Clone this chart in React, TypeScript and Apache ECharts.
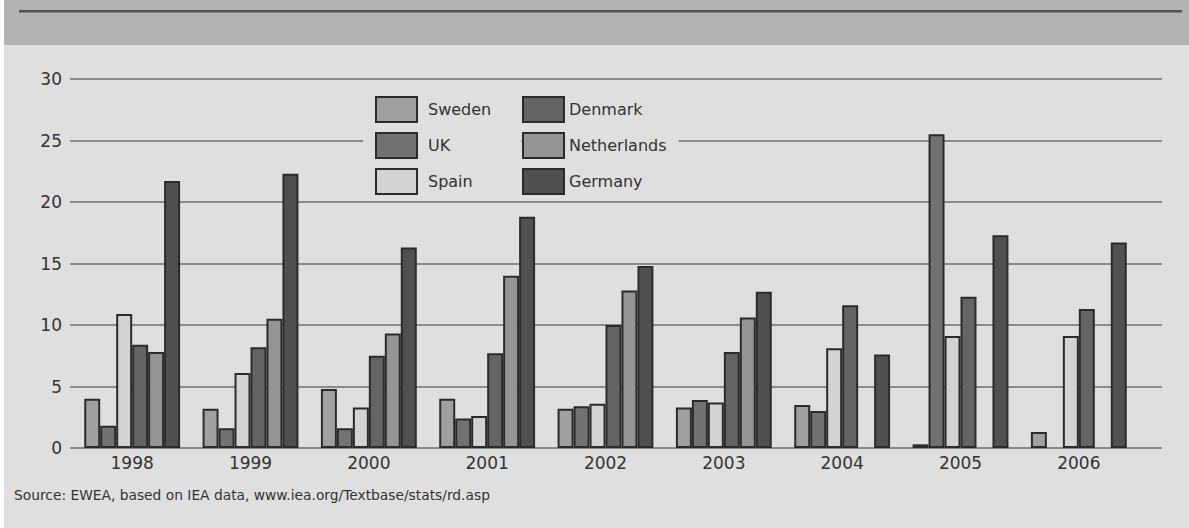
import React, { useEffect, useRef } from "react";
import * as echarts from "echarts";

const years = ["1998", "1999", "2000", "2001", "2002", "2003", "2004", "2005", "2006"];
const sweden = [4.0, 3.2, 4.8, 4.0, 3.2, 3.3, 3.5, 0.3, 1.3];
const uk = [1.8, 1.6, 1.6, 2.4, 3.4, 3.9, 3.0, 25.5, null];
const spain = [10.9, 6.1, 3.3, 2.6, 3.6, 3.7, 8.1, 9.1, 9.1];
const denmark = [8.4, 8.2, 7.5, 7.7, 10.0, 7.8, 11.6, 12.3, 11.3];
const netherlands = [7.8, 10.5, 9.3, 14.0, 12.8, 10.6, null, null, null];
const germany = [21.7, 22.3, 16.3, 18.8, 14.8, 12.7, 7.6, 17.3, 16.7];

const seriesDefs = [
  { name: "Sweden", data: sweden, color: "#a0a0a0" },
  { name: "UK", data: uk, color: "#727272" },
  { name: "Spain", data: spain, color: "#d3d3d3" },
  { name: "Denmark", data: denmark, color: "#646464" },
  { name: "Netherlands", data: netherlands, color: "#959595" },
  { name: "Germany", data: germany, color: "#505050" },
];

const sourceText = "Source: EWEA, based on IEA data, www.iea.org/Textbase/stats/rd.asp";
const FONT = "'DejaVu Sans', sans-serif";

export default function App() {
  const ref = useRef<HTMLDivElement>(null);
  useEffect(() => {
    if (!ref.current) return;
    const chart = echarts.init(ref.current, null, { renderer: "svg" });
    const legendCommon = {
      orient: "vertical",
      icon: "rect",
      itemWidth: 41,
      itemHeight: 25,
      itemGap: 9,
      selectedMode: false,
      backgroundColor: "#dfdfdf",
      textStyle: { fontFamily: FONT, fontSize: 16, color: "#333" },
      z: 5,
    };
    chart.setOption({
      animation: false,
      backgroundColor: "#dfdfdf",
      textStyle: { fontFamily: FONT },
      graphic: [
        { type: "rect", shape: { x: 0, y: 0, width: 4, height: 528 }, style: { fill: "#ffffff" }, z: -1 },
        { type: "rect", shape: { x: 4, y: 0, width: 1185, height: 45 }, style: { fill: "#b3b3b3" }, z: -1 },
        { type: "rect", shape: { x: 19, y: 10, width: 1163, height: 2.5 }, style: { fill: "#505050" }, z: 0 },
        {
          type: "text",
          x: 14,
          y: 495,
          style: { text: sourceText, fontFamily: FONT, fontSize: 13.8, fill: "#333", verticalAlign: "middle" },
        },
      ],
      legend: [
        {
          ...legendCommon,
          left: 363,
          top: 91,
          padding: [5, 30, 5, 12],
          data: ["Sweden", "UK", "Spain"],
          textStyle: { ...legendCommon.textStyle, padding: [0, 0, 0, 6] },
        },
        {
          ...legendCommon,
          left: 522,
          top: 91,
          padding: [5, 12, 5, 0],
          data: ["Denmark", "Netherlands", "Germany"],
        },
      ],
      grid: [
        { left: 73, right: 51, top: 79, bottom: 80, containLabel: false },
        { left: 70, right: 27, top: 79, bottom: 80, containLabel: false },
      ],
      xAxis: [
        {
          type: "category",
          gridIndex: 0,
          data: years,
          axisTick: { show: false },
          axisLine: { show: false },
          axisLabel: { color: "#333", fontSize: 17, fontFamily: FONT, margin: 6 },
        },
        {
          type: "value",
          gridIndex: 1,
          min: 0,
          max: 1,
          show: false,
        },
      ],
      yAxis: [
        {
          type: "value",
          gridIndex: 0,
          min: 0,
          max: 30,
          interval: 5,
          show: false,
          splitLine: { show: false },
        },
        {
          type: "value",
          gridIndex: 1,
          min: 0,
          max: 30,
          interval: 5,
          axisLine: { show: false },
          axisTick: { show: false },
          axisLabel: { color: "#333", fontSize: 17, fontFamily: FONT, margin: 8 },
          splitLine: { lineStyle: { color: "#8a8a8a", width: 2 } },
        },
      ],
      series: seriesDefs.map((s) => ({
        type: "bar",
        name: s.name,
        data: s.data,
        xAxisIndex: 0,
        yAxisIndex: 0,
        barGap: "0%",
        barCategoryGap: "19%",
        z: 3,
        itemStyle: { color: s.color, borderColor: "#2b2b2b", borderWidth: 2 },
      })),
    });
    return () => chart.dispose();
  }, []);
  return (
    <div
      ref={ref}
      style={{ position: "absolute", left: 0, top: 0, width: 1189, height: 528 }}
    />
  );
}
